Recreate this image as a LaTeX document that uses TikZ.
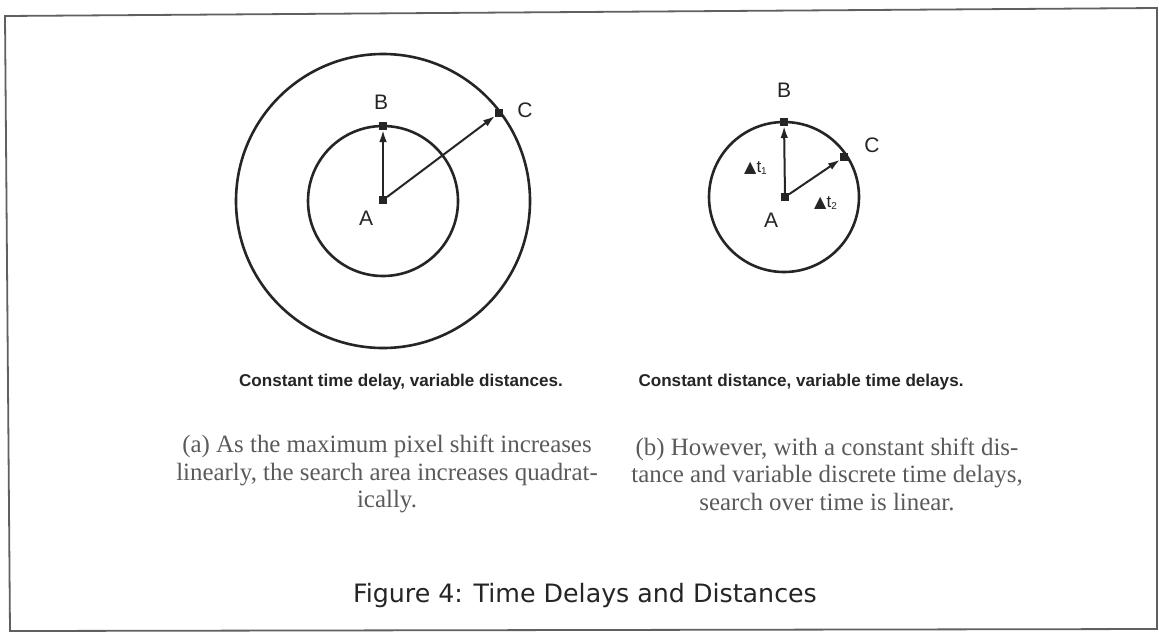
\documentclass[tikz,border=0pt]{standalone}
\usepackage{fontspec}
\setmainfont{Liberation Serif}
\setsansfont{Liberation Sans}
\newfontfamily\capfont{DejaVu Sans}
\newfontfamily\symfont{DejaVu Sans}
\usetikzlibrary{arrows.meta}
\definecolor{ink}{HTML}{252525}
\definecolor{frameink}{HTML}{606060}
\definecolor{paraink}{HTML}{5A5A5A}
\tikzset{
  frameline/.style={draw=frameink, line width=0.9pt},
  ring/.style={draw=ink, line width=1.3pt},
  marker/.style={rectangle, fill=ink, inner sep=0pt, minimum size=3.6pt},
  vec/.style={draw=ink, line width=1pt, -{Latex[length=6pt,width=3.8pt]}},
  ptlabel/.style={text=ink, font=\sffamily\fontsize{10.5}{12}\selectfont, inner sep=0pt},
  sublabel/.style={text=ink, font=\sffamily\bfseries\fontsize{8.55}{10}\selectfont, inner sep=0pt},
  para/.style={text=paraink, font=\fontsize{12.45}{13.75}\selectfont, align=center, inner sep=0pt},
  figcap/.style={text=ink, font=\capfont\fontsize{12.65}{14}\selectfont, inner sep=0pt},
}
\begin{document}
\begin{tikzpicture}[x=0.5pt,y=-0.5pt]
\useasboundingbox (0,0) rectangle (1159,633);
\fill[white] (0,0) rectangle (1159,633);
\draw[frameline] (5,16) -- (1157,8) -- (1157,629) -- (10,631) -- cycle;

% left diagram
\draw[ring] (383,201) circle[radius=73.5pt];
\draw[ring] (383,201) circle[radius=37.5pt];
\node[marker] (A1) at (383,200) {};
\node[marker] (B1) at (383,126) {};
\node[marker] (C1) at (499,113) {};
\draw[vec] (A1) -- (B1);
\draw[vec] (A1) -- (C1);
\node[ptlabel] (lA1) at (366,218) {A};
\node[ptlabel] (lB1) at (381,102) {B};
\node[ptlabel] (lC1) at (525,110) {C};

% right diagram
\draw[ring] (784,197) circle[radius=37.5pt];
\node[marker] (A2) at (785,197) {};
\node[marker] (B2) at (784,122) {};
\node[marker] (C2) at (844,157) {};
\draw[vec] (A2) -- (B2);
\draw[vec] (A2) -- (C2);
\node[ptlabel] (lA2) at (771,220) {A};
\node[ptlabel] (lB2) at (784,90) {B};
\node[ptlabel] (lC2) at (872,145) {C};
\node[ptlabel, font=\sffamily\fontsize{8.5}{10}\selectfont] (dt1) at (756,168) {{\symfont\fontsize{8}{8}\selectfont ▲}t\textsubscript{\fontsize{5}{6}\selectfont 1}};
\node[ptlabel, font=\sffamily\fontsize{8.5}{10}\selectfont] (dt2) at (826,203) {{\symfont\fontsize{8}{8}\selectfont ▲}t\textsubscript{\fontsize{5}{6}\selectfont 2}};

% sub captions
\node[sublabel] (capL) at (401,382) {Constant time delay, variable distances.};
\node[sublabel] (capR) at (801,382) {Constant distance, variable time delays.};

\node[para] (pa) at (387,474) {(a) As the maximum pixel shift increases\\linearly, the search area increases quadrat-\\ically.};
\node[para] (pb) at (827,474) {(b) However, with a constant shift dis-\\tance and variable discrete time delays,\\search over time is linear.};

\node[figcap] (fig) at (585,596) {Figure 4: Time Delays and Distances};
\end{tikzpicture}
\end{document}
